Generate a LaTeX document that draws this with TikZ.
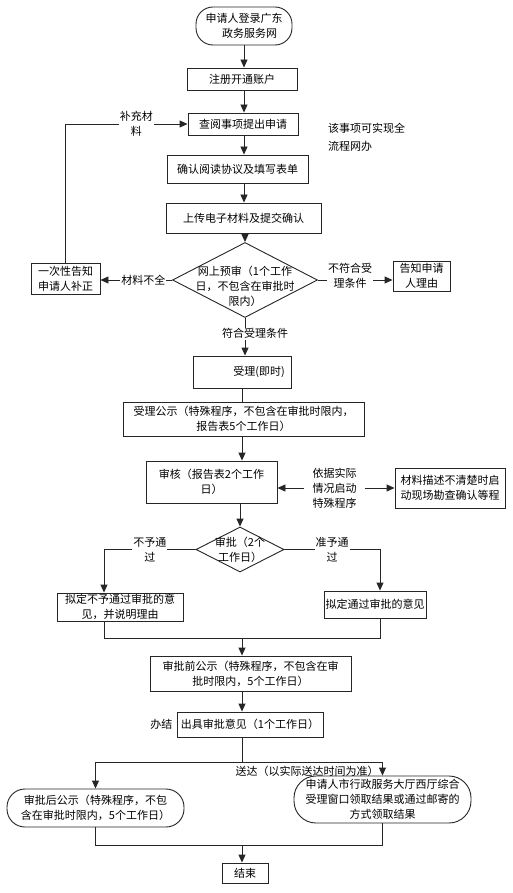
\documentclass[tikz,border=0pt]{standalone}
\usepackage{fontspec}
\setmainfont{Noto Sans CJK SC}
\usetikzlibrary{arrows.meta,shapes.geometric,calc}
\begin{document}
\begin{tikzpicture}[x=1pt,y=-1pt,
  every node/.style={font=\fontsize{11}{15}\selectfont, align=center, inner sep=0pt, text=black},
  box/.style={draw=black!85, line width=0.9pt, rectangle},
  rbox/.style={box},
  dia/.style={draw=black!85, line width=0.9pt, diamond},
  ln/.style={draw=black!85, line width=0.9pt},
  arr/.style={ln, -{Triangle[length=8pt,width=7pt]}},
  lbl/.style={fill=white, inner sep=1pt}
]
\useasboundingbox (0,0) rectangle (513,893);
\fill[white] (0,0) rectangle (513,893);

\node[rbox, rounded corners=17pt, minimum width=96pt, minimum height=38pt, align=left] (start) at (244,26) {申请人登录广东\\\hspace*{1.5em}政务服务网};
\node[box, minimum width=110pt, minimum height=22pt] (reg) at (242,79) {注册开通账户};
\node[box, minimum width=110pt, minimum height=22pt] (query) at (243,124) {查阅事项提出申请};
\node[box, minimum width=141pt, minimum height=28pt] (confirm) at (237.5,169) {确认阅读协议及填写表单};
\node[box, minimum width=155pt, minimum height=30pt] (upload) at (243.5,218) {上传电子材料及提交确认};
\node[dia, minimum width=145pt, minimum height=75pt] (pre) at (245,280) {};
\node[yshift=-6pt] (pretext) at (pre) {网上预审（1个工作\\日，不包含在审批时\\限内）};
\node[box, minimum width=69pt, minimum height=31pt] (fix) at (65.5,278.5) {一次性告知\\申请人补正};
\node[box, minimum width=57pt, minimum height=30pt] (reason) at (421.5,276) {告知申请\\人理由};
\node[anchor=west, align=left, font=\fontsize{11}{18}\selectfont] (note) at (328,137) {该事项可实现全\\流程网办};

\node[box, minimum width=98pt, minimum height=32pt] (accept) at (242,372) {\hspace*{34pt}受理(即时)};
\node[box, minimum width=241pt, minimum height=34pt] (publicA) at (243.5,419) {受理公示（特殊程序，不包含在审批时限内，\\报告表5个工作日）};
\node[box, minimum width=131pt, minimum height=42pt] (review) at (211.5,482) {审核（报告表2个工作\\日）};
\node[inner xsep=8pt] (basis) at (334.5,488) {依据实际\\情况启动\\特殊程序};
\node[box, minimum width=110pt, minimum height=40pt] (detail) at (450,488) {材料描述不清楚时启\\动现场勘查确认等程};
\node[dia, minimum width=88pt, minimum height=45pt] (approve) at (240,549.5) {};
\node (approvetext) at (approve) {审批（2个\\工作日）};
\node[box, minimum width=126pt, minimum height=28pt] (reject) at (120,607) {拟定不予通过审批的意\\见，并说明理由};
\node[box, minimum width=102pt, minimum height=27pt] (pass) at (375,604.5) {拟定通过审批的意见};
\node[box, minimum width=201pt, minimum height=35pt] (publicB) at (250.5,673.5) {审批前公示（特殊程序，不包含在审\\批时限内，5个工作日）};
\node[box, minimum width=146pt, minimum height=25pt] (issue) at (250,724.5) {出具审批意见（1个工作日）};
\node[anchor=east] (done) at ([xshift=-4pt]issue.west) {办结};
\node[rbox, rounded corners=18pt, minimum width=177pt, minimum height=38pt] (post) at (95.5,808) {审批后公示（特殊程序，不包\\含在审批时限内，5个工作日）};
\node[rbox, rounded corners=22pt, minimum width=177pt, minimum height=47pt] (pickup) at (382.5,799.5) {申请人市行政服务大厅西厅综合\\受理窗口领取结果或通过邮寄的\\方式领取结果};
\node (deliver) at (307,771) {送达（以实际送达时间为准）};
\node[box, minimum width=46pt, minimum height=20pt] (finish) at (245,873) {结束};

\coordinate (sp) at (244,0);
\coordinate (m1) at (242,638);
\coordinate (m2) at (242,762);
\coordinate (m3) at (242,845);
\coordinate (rj) at ([xshift=-16pt]reject.south);
\coordinate (rjn) at ([xshift=-16pt]reject.north);
\coordinate (ps) at ([xshift=5pt]pass.south);
\coordinate (psn) at ([xshift=5pt]pass.north);

\draw[arr] (start.south) -- (start.south |- reg.north);
\draw[arr] (reg.south -| sp) -- (query.north -| sp);
\draw[arr] (query.south -| sp) -- (confirm.north -| sp);
\draw[arr] (confirm.south -| sp) -- (upload.north -| sp);
\draw[arr] (upload.south -| pre.north) -- (pre.north);
\draw[arr] (pre.west) -- node[lbl, pos=0.4]{材料不全} (pre.west -| fix.east);
\draw[arr] (pre.east) -- node[lbl, pos=0.43, yshift=4.5pt]{不符合受\\理条件} (pre.east -| reason.west);
\draw[arr] (fix.north) |- node[lbl, pos=0.79]{补充材\\料} (query.west);
\draw[arr] (pre.south) -- node[lbl, xshift=10pt, yshift=3pt]{符合受理条件} (pre.south |- accept.north);
\draw[ln] (accept.south -| m1) -- (publicA.north -| m1);
\draw[arr] (publicA.south -| m1) -- (review.north -| m1);
\draw[arr] (basis.west) -- (basis.west -| review.east);
\draw[arr] (basis.east) -- (detail.west);
\draw[arr] (review.south -| approve.north) -- (approve.north);
\draw[arr] (approve.west) -| node[lbl, pos=0.25]{不予通\\过} (rjn);
\draw[arr] (approve.east) -| node[lbl, pos=0.25]{准予通\\过} (psn);
\draw[ln] (rj) |- (ps |- m1) -- (ps);
\draw[arr] (m1) -- (m1 |- publicB.north);
\draw[arr] (publicB.south -| m1) -- (issue.north -| m1);
\draw[ln] (issue.south -| m2) -- (m2);
\draw[arr] (m2) -| (post.north);
\draw[arr] (m2) -| (pickup.north);
\draw[ln] (post.south) |- (m3) -| (pickup.south);
\draw[arr] (m3) -- (m3 |- finish.north);
\end{tikzpicture}
\end{document}
